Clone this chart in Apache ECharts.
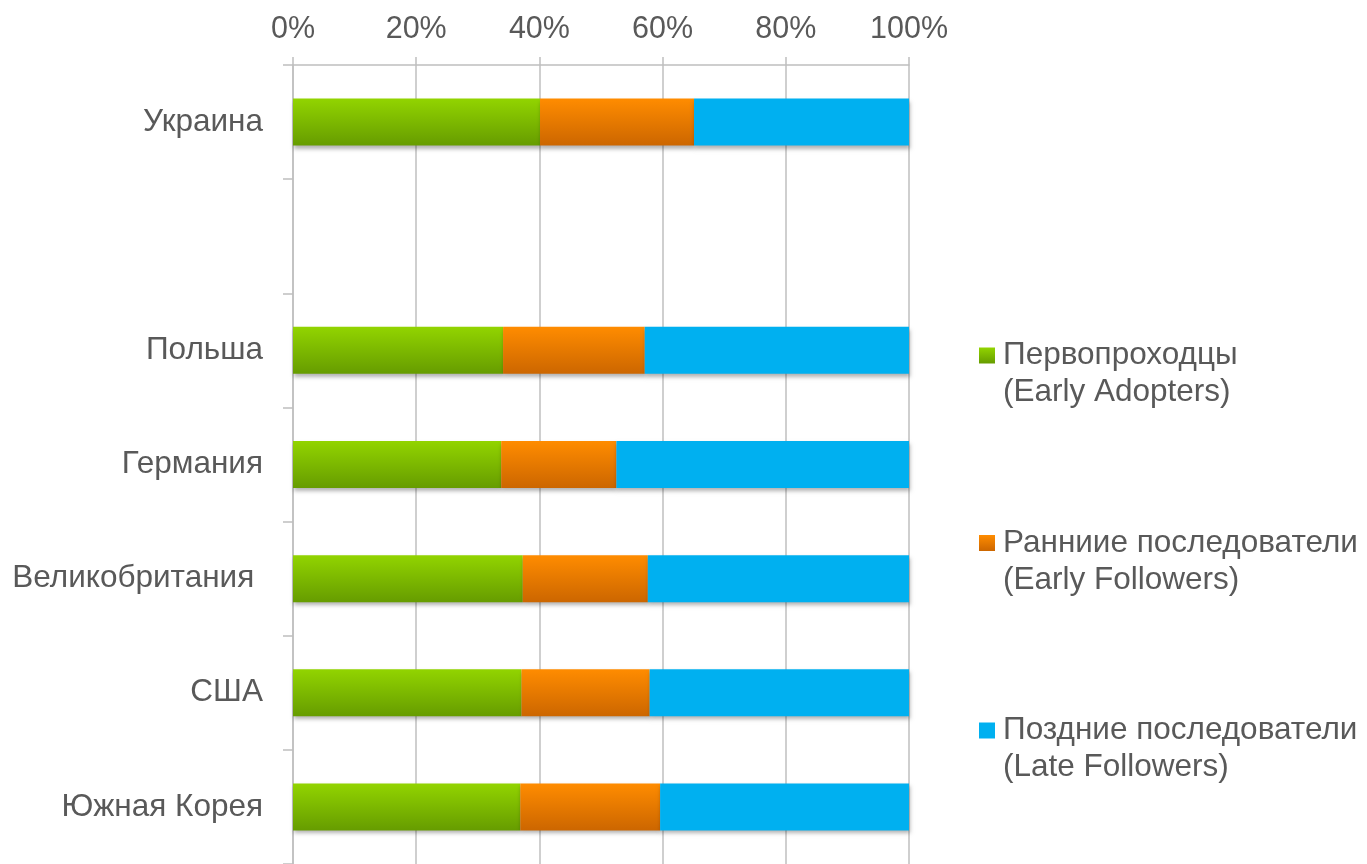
<!DOCTYPE html>
<html>
<head>
<meta charset="utf-8">
<script src="https://cdn.jsdelivr.net/npm/echarts@6/dist/echarts.min.js"></script>
<style>
html,body{margin:0;padding:0;background:#fff;}
#c{width:1367px;height:864px;}
</style>
</head>
<body>
<div id="c"></div>
<script>
const categories = ['Украина', '', 'Польша', 'Германия', 'Великобритания ', 'США', 'Южная Корея'];
const seriesNames = ['Первопроходцы\n(Early Adopters)', 'Ранниие последователи\n(Early Followers)', 'Поздние последователи\n(Late Followers)'];
const earlyAdopters = [40.1, '-', 34.1, 33.8, 37.3, 37.1, 36.9];
const earlyFollowers = [25.0, '-', 23.0, 18.7, 20.3, 20.8, 22.7];
const lateFollowers = [34.9, '-', 42.9, 47.5, 42.4, 42.1, 40.4];
const xTicks = [0, 20, 40, 60, 80, 100];

const FONT = '"Liberation Sans", Arial, sans-serif';
const grad = (a, b) => new echarts.graphic.LinearGradient(0, 0, 0, 1, [{offset: 0, color: a}, {offset: 1, color: b}]);
const shadow = {shadowBlur: 4, shadowOffsetY: 3, shadowOffsetX: 1, shadowColor: 'rgba(0,0,0,0.3)'};

const chart = echarts.init(document.getElementById('c'), null, {renderer: 'canvas'});
chart.setOption({
  backgroundColor: '#fff',
  animation: false,
  textStyle: {fontFamily: FONT},
  grid: {left: 293, right: 458, top: 65, height: 802, containLabel: false},
  xAxis: {
    type: 'value', position: 'top', min: xTicks[0], max: xTicks[xTicks.length - 1], interval: 20,
    axisLine: {show: true, lineStyle: {color: '#BFBFBF', width: 1.5}},
    axisTick: {show: true, length: 8, lineStyle: {color: '#BFBFBF', width: 1.5}},
    splitLine: {show: true, lineStyle: {color: '#BFBFBF', width: 1.5}},
    axisLabel: {formatter: '{value}%', fontSize: 30.5, color: '#595959', margin: 20, fontFamily: FONT}
  },
  yAxis: {
    type: 'category', inverse: true, data: categories,
    axisLine: {show: true, lineStyle: {color: '#BFBFBF', width: 1.5}},
    axisTick: {show: true, length: 10, lineStyle: {color: '#BFBFBF', width: 1.5}},
    splitLine: {show: false},
    axisLabel: {fontSize: 31.5, color: '#595959', margin: 30, fontFamily: FONT}
  },
  legend: {
    orient: 'vertical', left: 979, top: 300, itemGap: 76.5, padding: 0,
    itemWidth: 16, itemHeight: 16, icon: 'rect',
    formatter: name => ' \n' + name,
    textStyle: {fontSize: 31.5, color: '#595959', lineHeight: 37, fontFamily: FONT, padding: [0, 0, 0, 3]},
    data: seriesNames
  },
  series: [
    {name: seriesNames[0], type: 'bar', stack: 'a', barWidth: 47, data: earlyAdopters,
     itemStyle: Object.assign({color: grad('#92D400', '#669C00')}, shadow)},
    {name: seriesNames[1], type: 'bar', stack: 'a', barWidth: 47, data: earlyFollowers,
     itemStyle: Object.assign({color: grad('#FF8C00', '#CC6600')}, shadow)},
    {name: seriesNames[2], type: 'bar', stack: 'a', barWidth: 47, data: lateFollowers,
     itemStyle: Object.assign({color: '#00B0F0'}, shadow)}
  ]
});
</script>
</body>
</html>
